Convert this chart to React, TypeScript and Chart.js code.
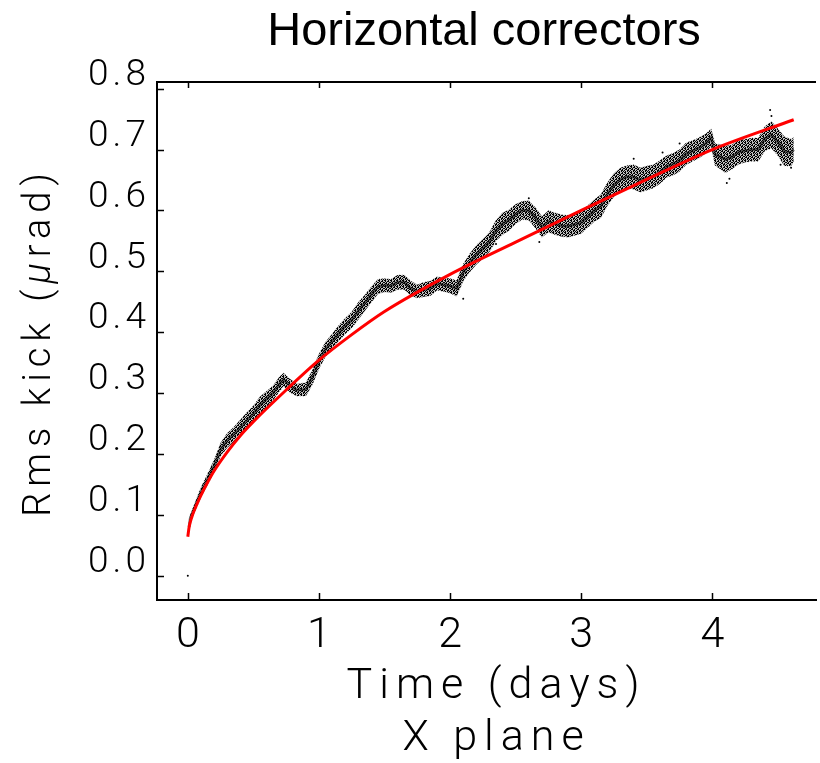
import { useEffect, useRef } from 'react';
import { Chart, registerables } from 'chart.js';

Chart.register(...registerables);

// Noisy measured trace (centre of the black band), time in days
const T = [
  0.01, 0.02, 0.05, 0.10, 0.15, 0.20, 0.25, 0.30, 0.35, 0.40,
  0.45, 0.50, 0.55, 0.60, 0.65, 0.70, 0.73, 0.78, 0.83, 0.90,
  0.95, 1.00, 1.05, 1.10, 1.15, 1.20, 1.25, 1.30, 1.35, 1.40,
  1.45, 1.50, 1.55, 1.60, 1.65, 1.70, 1.75, 1.80, 1.85, 1.90,
  1.95, 2.00, 2.05, 2.10, 2.15, 2.20, 2.25, 2.30, 2.35, 2.40,
  2.45, 2.50, 2.55, 2.60, 2.65, 2.70, 2.75, 2.80, 2.85, 2.90,
  2.95, 3.00, 3.05, 3.10, 3.15, 3.20, 3.25, 3.30, 3.35, 3.40,
  3.45, 3.50, 3.55, 3.60, 3.65, 3.70, 3.75, 3.80, 3.85, 3.90,
  3.95, 3.99, 4.02, 4.06, 4.10, 4.15, 4.20, 4.25, 4.30, 4.35,
  4.40, 4.45, 4.50, 4.55, 4.60, 4.62,
];
const MID = [
  0.080, 0.095, 0.110, 0.137, 0.158, 0.180, 0.207, 0.222, 0.232, 0.243,
  0.255, 0.266, 0.280, 0.290, 0.300, 0.315, 0.322, 0.312, 0.305, 0.306,
  0.326, 0.352, 0.372, 0.385, 0.398, 0.410, 0.420, 0.435, 0.448, 0.462,
  0.475, 0.477, 0.476, 0.482, 0.482, 0.472, 0.467, 0.470, 0.472, 0.480,
  0.478, 0.476, 0.472, 0.498, 0.514, 0.527, 0.537, 0.548, 0.567, 0.578,
  0.584, 0.594, 0.600, 0.600, 0.588, 0.573, 0.582, 0.578, 0.575, 0.574,
  0.577, 0.580, 0.590, 0.600, 0.607, 0.627, 0.642, 0.651, 0.655, 0.655,
  0.650, 0.653, 0.656, 0.663, 0.672, 0.676, 0.682, 0.693, 0.698, 0.703,
  0.710, 0.720, 0.692, 0.688, 0.684, 0.688, 0.696, 0.698, 0.700, 0.700,
  0.718, 0.724, 0.712, 0.697, 0.695, 0.700,
];
// half-width of the noise band
const SPREAD = [
  0.006, 0.006, 0.007, 0.008, 0.009, 0.010, 0.011, 0.012, 0.012, 0.013,
  0.013, 0.013, 0.014, 0.013, 0.012, 0.012, 0.011, 0.011, 0.010, 0.011,
  0.012, 0.012, 0.012, 0.012, 0.013, 0.013, 0.013, 0.014, 0.013, 0.013,
  0.012, 0.011, 0.011, 0.012, 0.012, 0.012, 0.011, 0.012, 0.012, 0.011,
  0.011, 0.012, 0.013, 0.014, 0.015, 0.016, 0.016, 0.016, 0.017, 0.018,
  0.017, 0.016, 0.015, 0.016, 0.017, 0.017, 0.018, 0.018, 0.018, 0.018,
  0.018, 0.018, 0.018, 0.018, 0.019, 0.019, 0.019, 0.019, 0.019, 0.020,
  0.020, 0.020, 0.019, 0.019, 0.018, 0.018, 0.018, 0.018, 0.017, 0.017,
  0.016, 0.014, 0.018, 0.020, 0.022, 0.020, 0.020, 0.019, 0.019, 0.019,
  0.020, 0.022, 0.022, 0.024, 0.022, 0.020,
];

// scattered outlier samples
const OUT_T = [2.10, 2.35, 2.68, 2.60, 3.40, 3.62, 3.75, 4.11, 4.13, 4.44, 4.45, 4.52, 4.60];
const OUT_Y = [0.455, 0.545, 0.548, 0.620, 0.685, 0.695, 0.710, 0.645, 0.652, 0.765, 0.755, 0.675, 0.670];

// isolated first sample
const ORIGIN_T = [0];
const ORIGIN_Y = [0];

// red fitted curve
const FIT_T = [0, 0.01, 0.03, 0.06, 0.10, 0.15, 0.20, 0.30, 0.40, 0.50, 0.75, 1.00, 1.25, 1.50, 2.00, 2.50, 3.00, 3.50, 4.00, 4.62];
const FIT_Y = [0.064, 0.080, 0.096, 0.113, 0.132, 0.153, 0.172, 0.203, 0.230, 0.253, 0.305, 0.354, 0.396, 0.434, 0.495, 0.548, 0.600, 0.651, 0.700, 0.749];

const X_MIN = -0.235;
const X_MAX = 4.79;
const Y_MIN = -0.04;
const Y_MAX = 0.811;

const TITLE = 'Horizontal correctors';
const X_TITLE = 'Time (days)';
const X_SUBTITLE = 'X plane';
const Y_TITLE_PARTS: [string, boolean][] = [['Rms kick (', false], ['\u03bc', true], ['rad)', false]];

const THIN = 'Roboto, "DejaVu Sans", sans-serif';

// fixed stipple texture for the dense cloud of samples
const STIPPLE = [
  '#.#..#',
  '.##.#.',
  '#..##.',
  '.#.#.#',
  '##..#.',
  '.#.##.',
];

const zip = (xs: number[], ys: number[]) => xs.map((x, i) => ({ x, y: ys[i] }));

function makeStipple(): CanvasPattern | string {
  const c = document.createElement('canvas');
  c.width = STIPPLE[0].length;
  c.height = STIPPLE.length;
  const g = c.getContext('2d');
  if (!g) return 'rgba(0,0,0,0.6)';
  g.fillStyle = 'rgba(0,0,0,0.25)';
  g.fillRect(0, 0, c.width, c.height);
  g.fillStyle = '#000';
  STIPPLE.forEach((row, r) => {
    for (let k = 0; k < row.length; k++) if (row[k] === '#') g.fillRect(k, r, 1, 1);
  });
  return g.createPattern(c, 'repeat') || 'rgba(0,0,0,0.6)';
}

const decor = {
  id: 'decor',
  beforeDraw(chart: any) {
    chart.ctx.letterSpacing = '4px';
  },
  afterDraw(chart: any) {
    const { ctx, chartArea: a, scales } = chart;
    const xs = scales.x;
    const ys = scales.y;
    ctx.save();
    ctx.letterSpacing = '0px';
    ctx.strokeStyle = '#000';
    ctx.lineWidth = 2;
    ctx.beginPath();
    ctx.moveTo(a.left - 1, a.top);
    ctx.lineTo(a.right, a.top);
    ctx.stroke();
    ctx.lineWidth = 1.5;
    ctx.beginPath();
    xs.ticks.forEach((t: any) => {
      const px = Math.round(xs.getPixelForValue(t.value)) + 0.5;
      ctx.moveTo(px, a.bottom);
      ctx.lineTo(px, a.bottom - 7);
      ctx.moveTo(px, a.top);
      ctx.lineTo(px, a.top + 6);
    });
    ys.ticks.forEach((t: any) => {
      const py = Math.round(ys.getPixelForValue(t.value)) + 0.5;
      ctx.moveTo(a.left, py);
      ctx.lineTo(a.left + 7, py);
    });
    ctx.stroke();

    ctx.fillStyle = '#000';
    ctx.textBaseline = 'alphabetic';
    ctx.textAlign = 'center';
    ctx.font = '47px "Liberation Sans", Arial, sans-serif';
    ctx.fillText(TITLE, 484, 45);

    ctx.font = `300 43px ${THIN}`;
    ctx.letterSpacing = '7px';
    ctx.fillText(X_TITLE, 493 + 3.5, 698);
    ctx.fillText(X_SUBTITLE, 493 + 3.5, 750);

    ctx.translate(50, 345);
    ctx.rotate(-Math.PI / 2);
    ctx.letterSpacing = '6px';
    ctx.textAlign = 'left';
    const fontFor = (it: boolean) => `${it ? 'italic ' : ''}300 38px ${THIN}`;
    let total = 0;
    Y_TITLE_PARTS.forEach(([s, it]) => {
      ctx.font = fontFor(it);
      total += ctx.measureText(s).width;
    });
    let x0 = -total / 2 + 3;
    Y_TITLE_PARTS.forEach(([s, it]) => {
      ctx.font = fontFor(it);
      ctx.fillText(s, x0, 0);
      x0 += ctx.measureText(s).width;
    });
    ctx.restore();
  },
};

export default function App() {
  const ref = useRef<HTMLCanvasElement>(null);
  useEffect(() => {
    if (!ref.current) return;
    const high = T.map((t, i) => ({ x: t, y: MID[i] + SPREAD[i] }));
    const low = T.map((t, i) => ({ x: t, y: MID[i] - SPREAD[i] }));
    const chart = new Chart(ref.current, {
      type: 'scatter',
      data: {
        datasets: [
          {
            label: 'fit',
            data: zip(FIT_T, FIT_Y),
            showLine: true,
            borderColor: '#ff0000',
            borderWidth: 3,
            pointRadius: 0,
            cubicInterpolationMode: 'monotone',
          } as any,
          {
            label: 'trace',
            data: zip(T, MID),
            showLine: true,
            borderColor: 'rgba(0,0,0,0.55)',
            borderWidth: 3,
            pointRadius: 0,
          },
          {
            label: 'outliers',
            data: zip(OUT_T, OUT_Y),
            pointRadius: 1,
            pointBorderWidth: 0,
            pointBackgroundColor: '#000',
          },
          {
            label: 'origin',
            data: zip(ORIGIN_T, ORIGIN_Y),
            pointRadius: 1,
            pointBorderWidth: 0,
            pointBackgroundColor: '#000',
          },
          {
            label: 'high',
            data: high,
            showLine: true,
            borderWidth: 1,
            borderColor: 'rgba(0,0,0,0.35)',
            borderDash: [1, 2],
            pointRadius: 0,
            fill: '+1',
            backgroundColor: makeStipple() as any,
          },
          {
            label: 'low',
            data: low,
            showLine: true,
            borderWidth: 1,
            borderColor: 'rgba(0,0,0,0.35)',
            borderDash: [1, 2],
            pointRadius: 0,
          },
        ],
      },
      options: {
        animation: false,
        responsive: false,
        layout: { padding: { top: 82, left: 0, right: 0, bottom: 0 } },
        plugins: {
          legend: { display: false },
          tooltip: { enabled: false },
          title: { display: false },
        },
        scales: {
          x: {
            type: 'linear',
            min: X_MIN,
            max: X_MAX,
            afterFit: (s: any) => { s.height = 163; },
            grid: { display: false, drawTicks: false },
            border: { display: true, color: '#000', width: 2 },
            ticks: {
              stepSize: 1,
              includeBounds: false,
              color: '#000',
              padding: 10,
              labelOffset: 2,
              maxRotation: 0,
              font: { family: THIN, size: 43, weight: '300' as any },
              callback: (v: any) => String(v),
            },
          },
          y: {
            type: 'linear',
            min: Y_MIN,
            max: Y_MAX,
            afterFit: (s: any) => { s.width = 157; },
            grid: { display: false, drawTicks: false },
            border: { display: true, color: '#000', width: 2 },
            ticks: {
              stepSize: 0.1,
              includeBounds: false,
              color: '#000',
              padding: 7,
              labelOffset: -13,
              font: { family: THIN, size: 37, weight: '300' as any },
              callback: (v: any) => Number(v).toFixed(1),
            },
          },
        },
      },
      plugins: [decor],
    });
    return () => chart.destroy();
  }, []);
  return (
    <div style={{ position: 'absolute', left: 0, top: 0, width: 820, height: 763, background: '#fff' }}>
      <canvas ref={ref} width={820} height={763} style={{ width: 820, height: 763, display: 'block' }} />
    </div>
  );
}
